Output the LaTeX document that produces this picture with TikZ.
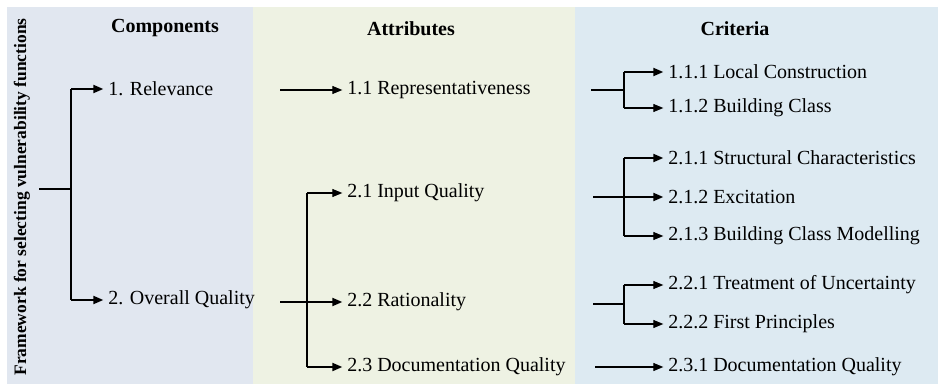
\documentclass[tikz,border=0pt]{standalone}
\usepackage{fontspec}
\setmainfont{Liberation Serif}
\usetikzlibrary{arrows.meta}
\definecolor{panelA}{HTML}{E1E7F0}
\definecolor{panelB}{HTML}{EEF2E3}
\definecolor{panelC}{HTML}{DDEAF2}
\begin{document}
\begin{tikzpicture}[x=0.75pt,y=-0.75pt,
  lbl/.style={anchor=west,inner sep=0pt,font=\fontsize{15}{18}\selectfont},
  hdr/.style={inner sep=0pt,font=\fontsize{15}{18}\selectfont\bfseries},
  thinln/.style={line width=0.8pt},
  thickln/.style={line width=1.5pt},
  arr/.style={-{Triangle[length=7.5pt,width=6pt]},shorten >=3.5pt}]
\useasboundingbox (0,0) rectangle (939,385);
\fill[white] (0,0) rectangle (939,385);
\fill[panelA] (7,7) rectangle (253,384);
\fill[panelB] (253,7) rectangle (575,384);
\fill[panelC] (575,7) rectangle (938,384);

% title and headers
\node[rotate=90,inner sep=0pt,font=\fontsize{13.1}{16}\selectfont\bfseries] (title) at (22,197) {Framework for selecting vulnerability functions};
\node[hdr] (h1) at (165,28) {Components};
\node[hdr] (h2) at (411,29) {Attributes};
\node[hdr] (h3) at (735,29) {Criteria};

% components
\node[lbl] (c1) at (108,89) {1. Relevance};
\node[lbl] (c2) at (108,300) {2. Overall Quality};
% attributes
\node[lbl] (a11) at (347,90) {1.1 Representativeness};
\node[lbl] (a21) at (347,193) {2.1 Input Quality};
\node[lbl] (a22) at (347,302) {2.2 Rationality};
\node[lbl] (a23) at (347,367) {2.3 Documentation Quality};
% criteria
\node[lbl] (k111) at (668,72) {1.1.1 Local Construction};
\node[lbl] (k112) at (668,108) {1.1.2 Building Class};
\node[lbl] (k211) at (668,158) {2.1.1 Structural Characteristics};
\node[lbl] (k212) at (668,197) {2.1.2 Excitation};
\node[lbl] (k213) at (668,236) {2.1.3 Building Class Modelling};
\node[lbl] (k221) at (668,285) {2.2.1 Treatment of Uncertainty};
\node[lbl] (k222) at (668,324) {2.2.2 First Principles};
\node[lbl] (k231) at (668,367) {2.3.1 Documentation Quality};

% connectors: root -> components
\coordinate (root) at (39,189);
\coordinate (rj) at (71,189);
\draw[thinln] (root) -- (rj);
\draw[thickln] (c1.west -| rj) -- (c2.west -| rj);
\draw[thickln,arr] (c1.west -| rj) -- (c1.west);
\draw[thickln,arr] (c2.west -| rj) -- (c2.west);

% relevance -> attributes
\coordinate (s11) at (280,90);
\draw[thinln,arr] (s11) -- (a11.west);

% overall quality -> attributes
\coordinate (s22) at (280,302);
\coordinate (aj) at (307,302);
\draw[thinln] (a21.west -| aj) -- (a23.west -| aj);
\draw[thickln,arr] (s22) -- (a22.west);
\draw[thinln,arr] (a21.west -| aj) -- (a21.west);
\draw[thickln,arr] (a23.west -| aj) -- (a23.west);

% criteria 1.1
\coordinate (t11) at (591,90);
\coordinate (j11) at (624,90);
\draw[thickln] (t11) -- (j11);
\draw[thickln] (k111.west -| j11) -- (k112.west -| j11);
\draw[thickln,arr] (k111.west -| j11) -- (k111.west);
\draw[thinln,arr] (k112.west -| j11) -- (k112.west);

% criteria 2.1
\coordinate (t21) at (593,197);
\coordinate (j21) at (624,197);
\draw[thickln] (t21) -- (j21);
\draw[thinln] (k211.west -| j21) -- (k213.west -| j21);
\draw[thickln,arr] (k211.west -| j21) -- (k211.west);
\draw[thickln,arr] (j21) -- (k212.west);
\draw[thinln,arr] (k213.west -| j21) -- (k213.west);

% criteria 2.2
\coordinate (t22) at (593,304);
\coordinate (j22) at (624,304);
\draw[thinln] (t22) -- (j22);
\draw[thinln] (k221.west -| j22) -- (k222.west -| j22);
\draw[thinln,arr] (k221.west -| j22) -- (k221.west);
\draw[thinln,arr] (k222.west -| j22) -- (k222.west);

% criteria 2.3
\coordinate (t23) at (595,367);
\draw[thinln,arr] (t23) -- (k231.west);
\end{tikzpicture}
\end{document}
